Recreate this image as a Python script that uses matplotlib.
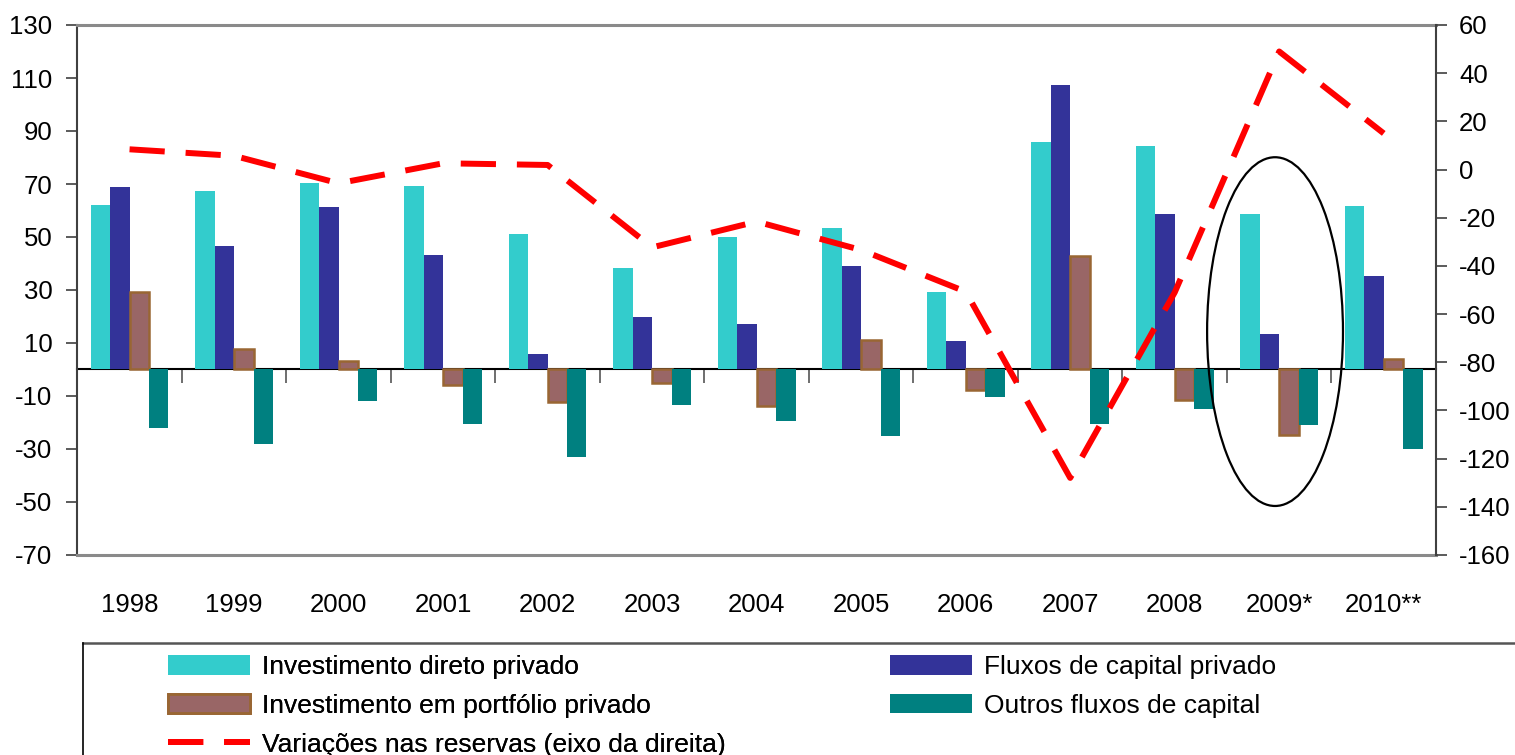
import matplotlib
matplotlib.use("Agg")
import matplotlib.pyplot as plt
import numpy as np
from matplotlib.patches import Ellipse, Patch
from matplotlib.lines import Line2D

# ---------------- data ----------------
years = ['1998', '1999', '2000', '2001', '2002', '2003', '2004', '2005',
         '2006', '2007', '2008', '2009*', '2010**']
inv_direto = [62, 67.4, 70.4, 69.2, 51.1, 38.3, 50, 53.4, 29.2, 85.8, 84.3, 58.7, 61.7]
fluxos_privado = [68.9, 46.6, 61.3, 43.2, 5.8, 19.8, 17.2, 39.1, 10.8, 107.4, 58.7, 13.4, 35.3]
inv_portfolio = [29.1, 7.7, 3.3, -5.8, -12.3, -5.2, -13.8, 11, -7.9, 42.7, -11.4, -24.7, 4]
outros_fluxos = [-22, -28, -11.8, -20.4, -33, -13.3, -19.3, -25, -10.3, -20.4, -14.8, -20.8, -29.9]
reservas = [8.4, 5.7, -5.7, 2.6, 1.9, -32.3, -21.6, -33.4, -50.7, -128, -51, 49, 15]

left_ticks = list(range(-70, 131, 20))
right_ticks = list(range(-160, 61, 20))

labels = ['Investimento direto privado', 'Investimento em portfólio privado',
          'Variações nas reservas (eixo da direita)',
          'Fluxos de capital privado', 'Outros fluxos de capital']

# ---------------- style ----------------
plt.rcParams['font.family'] = ['Liberation Sans', 'DejaVu Sans']
FS = 18.5
FS_LEG = 19

c_cyan = '#33CCCC'
c_blue = '#333399'
c_brown = '#996666'
c_brown_edge = '#996633'
c_teal = '#008080'

W, H = 1515, 755
fig = plt.figure(figsize=(W / 100, H / 100), dpi=100)
ax = fig.add_axes([77.3 / W, 1 - 555 / H, (1436 - 77.3) / W, (555 - 25) / H])

x = np.arange(len(years))
bw = 0.186
ax.bar(x - 1.5 * bw, inv_direto, bw, color=c_cyan, zorder=2)
ax.bar(x - 0.5 * bw, fluxos_privado, bw, color=c_blue, zorder=2)
ax.bar(x + 0.5 * bw, inv_portfolio, bw, color=c_brown, edgecolor=c_brown_edge,
       linewidth=1.8, zorder=2)
ax.bar(x + 1.5 * bw, outros_fluxos, bw, color=c_teal, zorder=2)

ax.set_xlim(-0.5, len(years) - 0.5)
ax.set_ylim(-70, 130)
ax.set_yticks(left_ticks)
ax.set_yticklabels([str(v) for v in left_ticks], fontsize=FS)
ax.tick_params(axis='y', direction='out', length=8, width=1.2, color='#404040', pad=10)
ax.set_xticks(x)
ax.set_xticklabels(years, fontsize=FS)
ax.tick_params(axis='x', length=0, pad=27)

for s in ['top', 'bottom']:
    ax.spines[s].set_color('#8a8a8a')
    ax.spines[s].set_linewidth(2.2)
ax.spines['left'].set_color('#404040')
ax.spines['left'].set_linewidth(1.5)
ax.spines['right'].set_visible(False)

# zero line with category-boundary ticks
sec = ax.secondary_xaxis(0, transform=ax.transData)
sec.set_xticks(np.arange(0.5, len(years) - 1, 1.0))
sec.set_xticklabels([])
sec.tick_params(direction='out', length=10, width=1.2, color='#555555')
sec.spines['bottom'].set_color('black')
sec.spines['bottom'].set_linewidth(1.5)

# right axis
ax2 = ax.twinx()
ax2.set_ylim(-160, 60)
ax2.set_yticks(right_ticks)
ax2.set_yticklabels([str(v) for v in right_ticks], fontsize=FS)
ax2.tick_params(axis='y', direction='out', length=8, width=1.2, color='#404040', pad=8.5)
for s in ['top', 'bottom', 'left']:
    ax2.spines[s].set_visible(False)
ax2.spines['right'].set_color('#404040')
ax2.spines['right'].set_linewidth(1.5)

dash = (5.9, 3.5)
ax2.plot(x, reservas, color='#FF0000', linewidth=4.3, dashes=dash,
         solid_capstyle='butt', dash_capstyle='butt', zorder=5)

# ellipse highlighting 2009
ax.add_patch(Ellipse((10.96, 14.3), 1.30, 131.6, fill=False, edgecolor='black',
                     linewidth=1.6, zorder=6))

# ---------------- legend ----------------
h_cyan = Patch(facecolor=c_cyan, edgecolor='none')
h_brown = Patch(facecolor=c_brown, edgecolor=c_brown_edge, linewidth=2)
h_line = Line2D([], [], color='#FF0000', linewidth=4.3, dashes=dash, dash_capstyle='butt')
h_blue = Patch(facecolor=c_blue, edgecolor='none')
h_teal = Patch(facecolor=c_teal, edgecolor='none')

fs_px = FS_LEG * 100 / 72
common = dict(loc='upper left', frameon=False, fontsize=FS_LEG, borderpad=0,
              borderaxespad=0, handlelength=82 / fs_px, handleheight=20 / fs_px,
              handletextpad=12 / fs_px, labelspacing=0.56)
leg1 = fig.legend([h_cyan, h_brown, h_line], labels[:3],
                  bbox_to_anchor=(168 / W, 1 - 655 / H), **common)
fig.add_artist(leg1)
leg2 = fig.legend([h_blue, h_teal], labels[3:],
                  bbox_to_anchor=(890 / W, 1 - 655 / H), **common)

# legend box (extends beyond the figure edge)
fig.add_artist(Line2D([83 / W, 1.0], [1 - 643 / H, 1 - 643 / H],
                      transform=fig.transFigure, color='#555555', linewidth=1.8))
fig.add_artist(Line2D([83 / W, 83 / W], [1 - 643 / H, 0], transform=fig.transFigure,
                      color='black', linewidth=1.2))

fig.savefig('out.png', dpi=100)
